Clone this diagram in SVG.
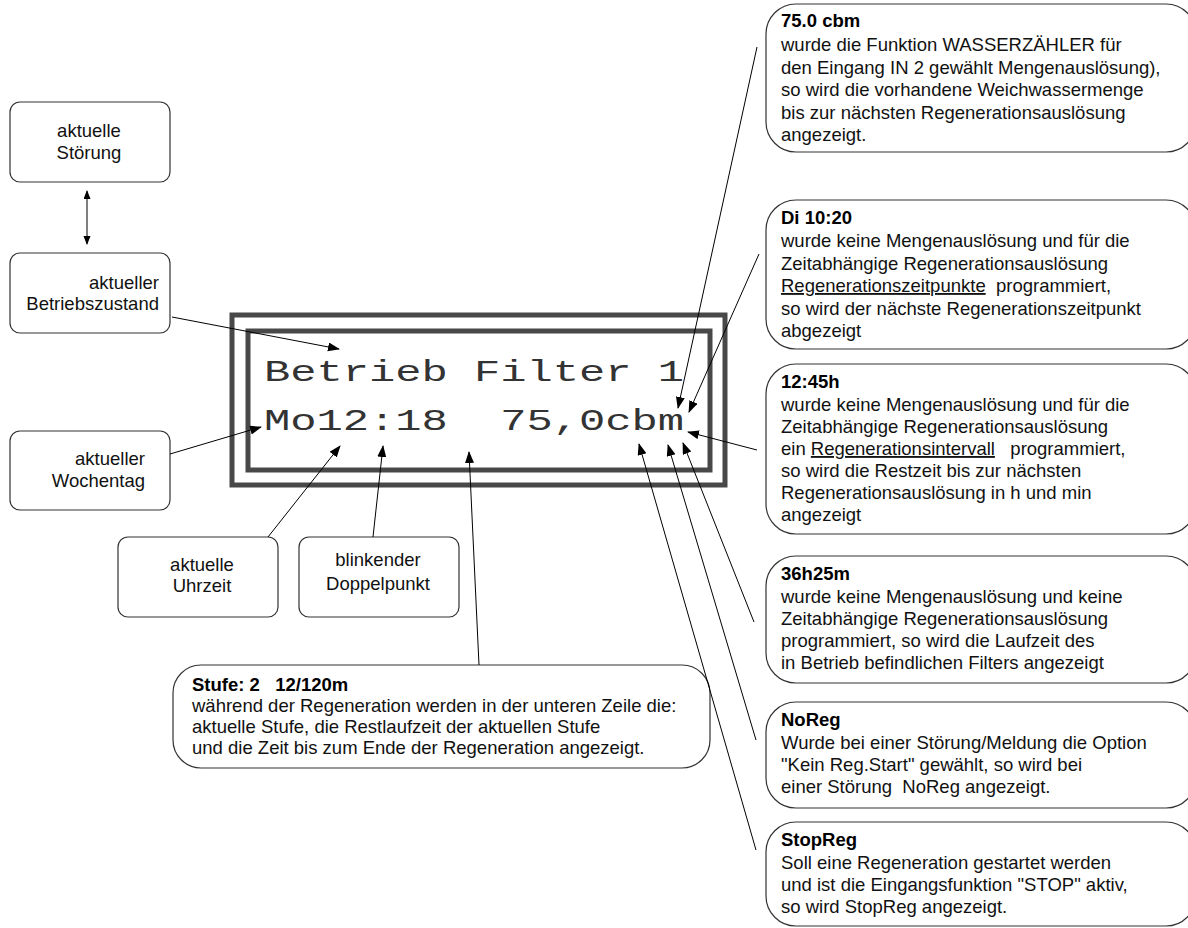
<svg xmlns="http://www.w3.org/2000/svg" width="1188" height="928" viewBox="0 0 1188 928">
<defs>
<marker id="ah" markerWidth="12" markerHeight="10" refX="11" refY="4.5" orient="auto" markerUnits="userSpaceOnUse">
<path d="M0,0 L12,4.5 L0,9 Z" fill="#000"/>
</marker>
<marker id="ahs" markerWidth="9" markerHeight="8" refX="8" refY="3.5" orient="auto-start-reverse" markerUnits="userSpaceOnUse">
<path d="M0,0 L9,3.5 L0,7 Z" fill="#000"/>
</marker>
<style>
.box{fill:#fff;stroke:#333;stroke-width:1.2}
.lbl{font-family:"Liberation Sans",Arial,sans-serif;font-size:18.5px;fill:#111}
.hd{font-family:"Liberation Sans",Arial,sans-serif;font-size:18.5px;font-weight:bold;fill:#000}
.bd{font-family:"Liberation Sans",Arial,sans-serif;font-size:18.5px;fill:#111}
.lcd{font-family:"Liberation Mono","Courier New",monospace;font-size:29px;fill:#333}
.frame{fill:none;stroke:#484848;stroke-width:5}
.con{stroke:#000;stroke-width:1;fill:none}
.u{text-decoration:underline}
</style>
</defs>
<rect width="1188" height="928" fill="#fff"/>

<g id="display">
<rect class="frame" x="232" y="315" width="493" height="170"/>
<rect class="frame" x="248" y="331" width="462" height="139"/>
<text class="lcd" x="264" y="381" textLength="420" lengthAdjust="spacingAndGlyphs">Betrieb Filter 1</text>
<text class="lcd" x="264" y="430" textLength="420" lengthAdjust="spacingAndGlyphs" xml:space="preserve">Mo12:18  75,0cbm</text>
</g>

<g id="n-stoerung">
<rect class="box" x="10" y="102" width="160" height="80" rx="10"/>
<text class="lbl" x="89" y="137" text-anchor="middle">aktuelle</text>
<text class="lbl" x="89" y="159" text-anchor="middle">Störung</text>
</g>
<g id="n-betrieb">
<rect class="box" x="10" y="253" width="160" height="80" rx="10"/>
<text class="lbl" x="159" y="289" text-anchor="end">aktueller</text>
<text class="lbl" x="159" y="310" text-anchor="end">Betriebszustand</text>
</g>
<g id="n-wochentag">
<rect class="box" x="10" y="431" width="160" height="79" rx="10"/>
<text class="lbl" x="145" y="465" text-anchor="end">aktueller</text>
<text class="lbl" x="145" y="487" text-anchor="end">Wochentag</text>
</g>
<g id="n-uhrzeit">
<rect class="box" x="118" y="537" width="160" height="80" rx="10"/>
<text class="lbl" x="202" y="571" text-anchor="middle">aktuelle</text>
<text class="lbl" x="202" y="592" text-anchor="middle">Uhrzeit</text>
</g>
<g id="n-doppelpunkt">
<rect class="box" x="299" y="537" width="160" height="80" rx="10"/>
<text class="lbl" x="378" y="566" text-anchor="middle">blinkender</text>
<text class="lbl" x="378" y="590" text-anchor="middle">Doppelpunkt</text>
</g>

<g id="n-stufe">
<rect class="box" x="173" y="665" width="537" height="103" rx="28"/>
<text class="hd" x="192" y="691" xml:space="preserve">Stufe: 2   12/120m</text>
<text class="bd" x="192" y="712">während der Regeneration werden in der unteren Zeile die:</text>
<text class="bd" x="192" y="733">aktuelle Stufe, die Restlaufzeit der aktuellen Stufe</text>
<text class="bd" x="192" y="754">und die Zeit bis zum Ende der Regeneration angezeigt.</text>
</g>

<g id="n-cbm">
<rect class="box" x="766" y="4" width="430" height="148" rx="30"/>
<text class="hd" x="781" y="27">75.0 cbm</text>
<text class="bd" x="781" y="51">wurde die Funktion WASSERZÄHLER für</text>
<text class="bd" x="781" y="73.5">den Eingang IN 2 gewählt Mengenauslösung),</text>
<text class="bd" x="781" y="96">so wird die vorhandene Weichwassermenge</text>
<text class="bd" x="781" y="118.5">bis zur nächsten Regenerationsauslösung</text>
<text class="bd" x="781" y="141">angezeigt.</text>
</g>
<g id="n-di">
<rect class="box" x="766" y="200" width="430" height="149" rx="30"/>
<text class="hd" x="781" y="224">Di 10:20</text>
<text class="bd" x="781" y="247">wurde keine Mengenauslösung und für die</text>
<text class="bd" x="781" y="269.5">Zeitabhängige Regenerationsauslösung</text>
<text class="bd" x="781" y="292" xml:space="preserve"><tspan class="u">Regenerationszeitpunkte</tspan>  programmiert,</text>
<text class="bd" x="781" y="314.5">so wird der nächste Regenerationszeitpunkt</text>
<text class="bd" x="781" y="337">abgezeigt</text>
</g>
<g id="n-interval">
<rect class="box" x="766" y="364" width="430" height="170" rx="30"/>
<text class="hd" x="781" y="388">12:45h</text>
<text class="bd" x="781" y="411">wurde keine Mengenauslösung und für die</text>
<text class="bd" x="781" y="433">Zeitabhängige Regenerationsauslösung</text>
<text class="bd" x="781" y="455" xml:space="preserve">ein <tspan class="u">Regenerationsintervall</tspan>   programmiert,</text>
<text class="bd" x="781" y="477">so wird die Restzeit bis zur nächsten</text>
<text class="bd" x="781" y="499">Regenerationsauslösung in h und min</text>
<text class="bd" x="781" y="521">angezeigt</text>
</g>
<g id="n-laufzeit">
<rect class="box" x="766" y="556" width="430" height="127" rx="30"/>
<text class="hd" x="781" y="580">36h25m</text>
<text class="bd" x="781" y="603">wurde keine Mengenauslösung und keine</text>
<text class="bd" x="781" y="625">Zeitabhängige Regenerationsauslösung</text>
<text class="bd" x="781" y="647">programmiert, so wird die Laufzeit des</text>
<text class="bd" x="781" y="669">in Betrieb befindlichen Filters angezeigt</text>
</g>
<g id="n-noreg">
<rect class="box" x="766" y="702" width="430" height="106" rx="30"/>
<text class="hd" x="781" y="726">NoReg</text>
<text class="bd" x="781" y="749">Wurde bei einer Störung/Meldung die Option</text>
<text class="bd" x="781" y="771">"Kein Reg.Start" gewählt, so wird bei</text>
<text class="bd" x="781" y="793" xml:space="preserve">einer Störung  NoReg angezeigt.</text>
</g>
<g id="n-stopreg">
<rect class="box" x="766" y="822" width="430" height="104" rx="30"/>
<text class="hd" x="781" y="846">StopReg</text>
<text class="bd" x="781" y="869">Soll eine Regeneration gestartet werden</text>
<text class="bd" x="781" y="891">und ist die Eingangsfunktion "STOP" aktiv,</text>
<text class="bd" x="781" y="913">so wird StopReg angezeigt.</text>
</g>

<g id="connectors">
<line class="con" x1="87" y1="191" x2="87" y2="244" marker-start="url(#ahs)" marker-end="url(#ahs)"/>
<line class="con" x1="172" y1="317" x2="339" y2="349" marker-end="url(#ah)"/>
<line class="con" x1="170" y1="454" x2="261" y2="427" marker-end="url(#ah)"/>
<line class="con" x1="268" y1="537" x2="340" y2="446" marker-end="url(#ah)"/>
<line class="con" x1="373" y1="537" x2="383" y2="446" marker-end="url(#ah)"/>
<line class="con" x1="479" y1="665" x2="469" y2="452" marker-end="url(#ah)"/>
<line class="con" x1="757" y1="47" x2="678" y2="408" marker-end="url(#ah)"/>
<line class="con" x1="759" y1="254" x2="689" y2="412" marker-end="url(#ah)"/>
<line class="con" x1="757" y1="450" x2="688" y2="432" marker-end="url(#ah)"/>
<line class="con" x1="754" y1="622" x2="683" y2="443" marker-end="url(#ah)"/>
<line class="con" x1="756" y1="740" x2="668" y2="445" marker-end="url(#ah)"/>
<line class="con" x1="756" y1="850" x2="639" y2="444" marker-end="url(#ah)"/>
</g>
</svg>
